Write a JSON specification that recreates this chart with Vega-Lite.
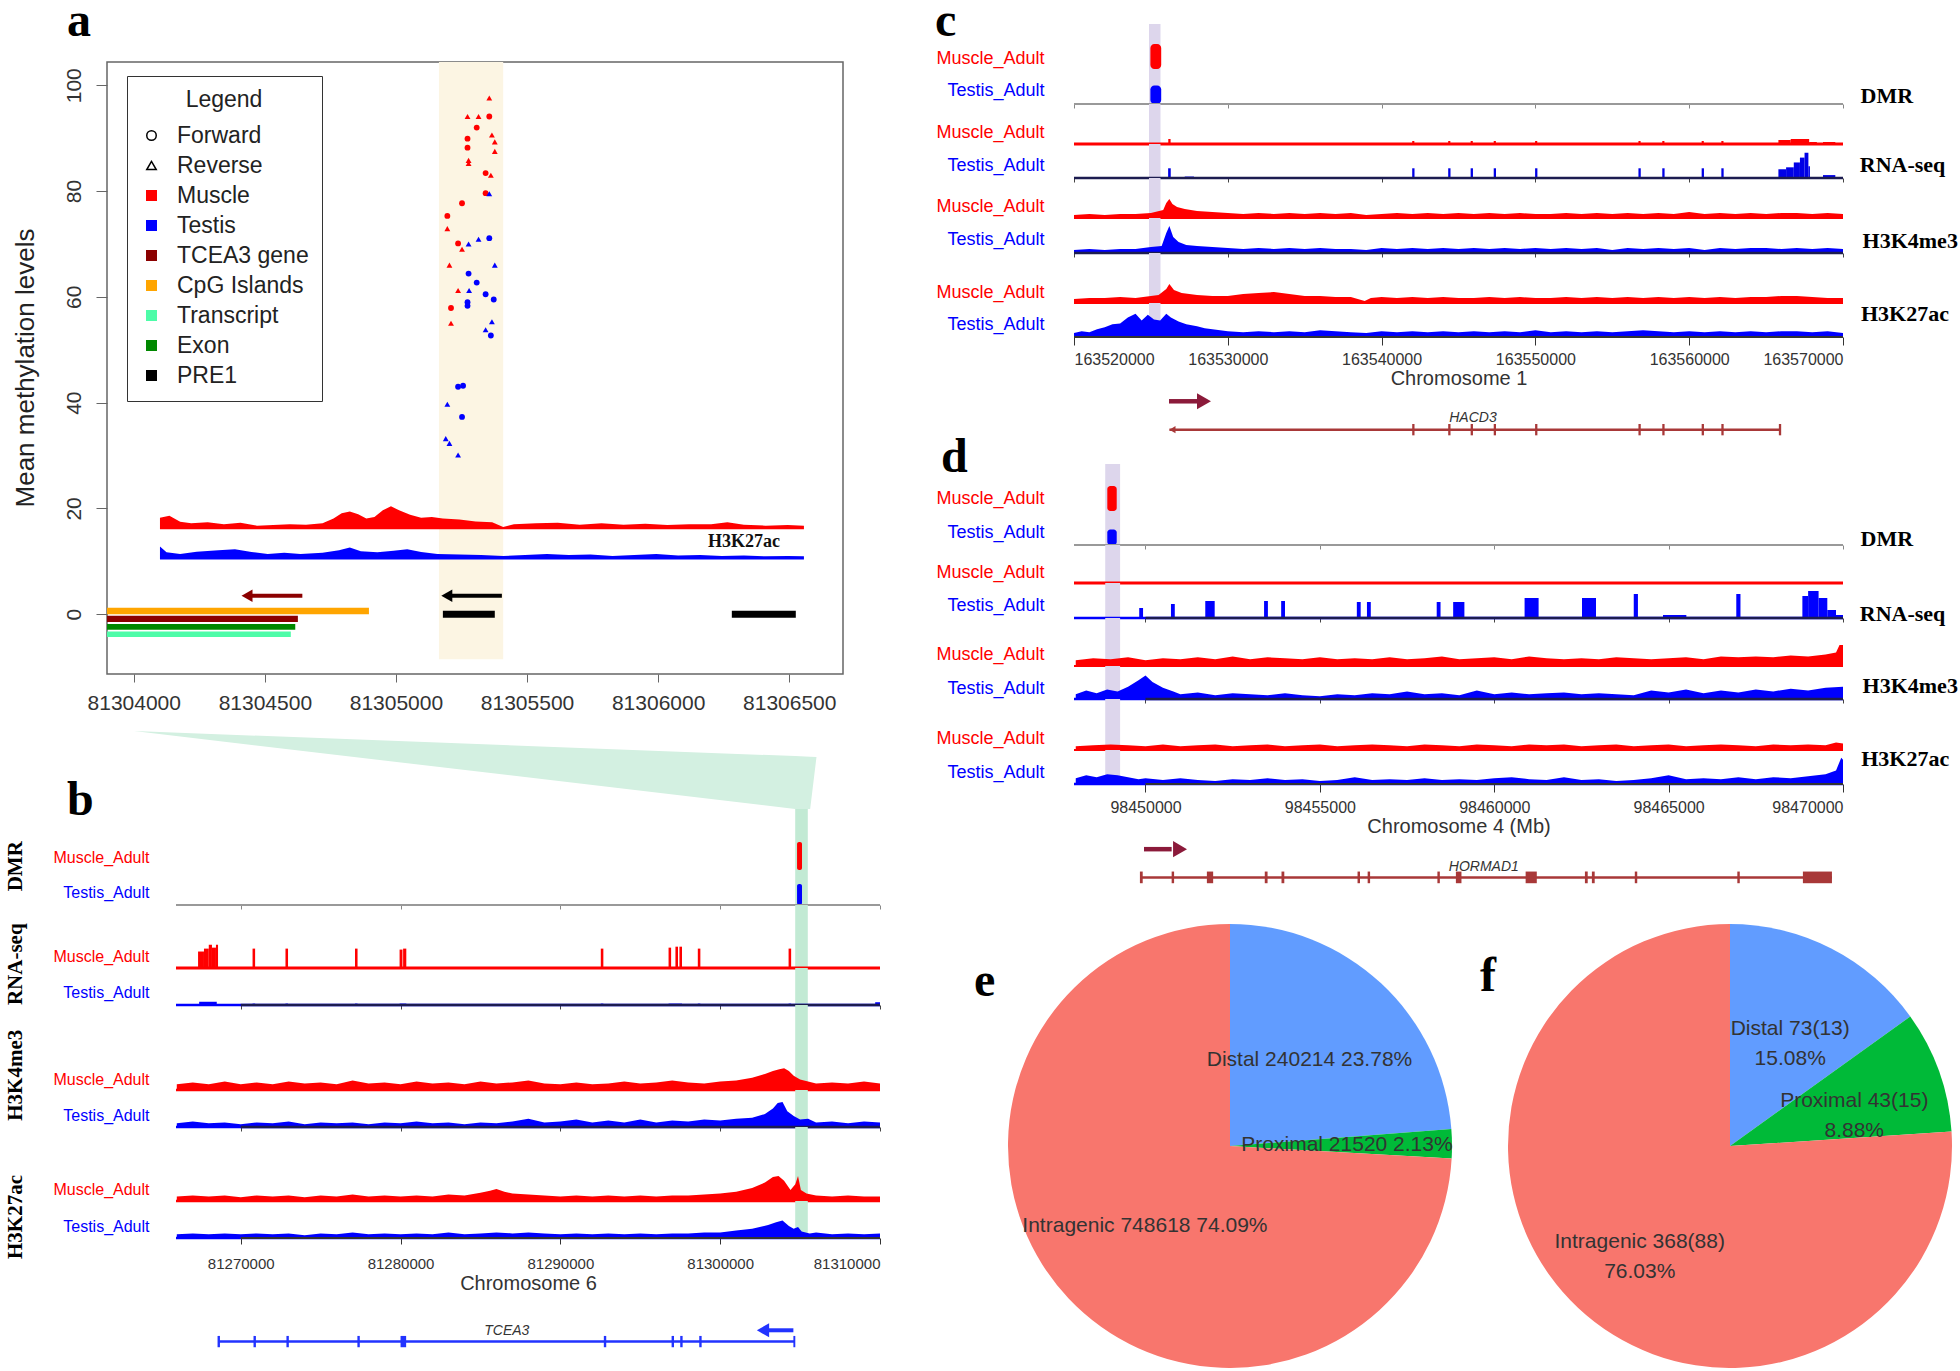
{
"$schema":"https://vega.github.io/schema/vega-lite/v6.json",
"background":"white",
"padding":{"left":4,"top":-2,"right":0,"bottom":0},
"config":{
 "view":{"stroke":null},
 "font":"Liberation Sans",
 "axis":{"grid":false,"labelFont":"Liberation Sans","titleFont":"Liberation Sans","titleFontWeight":"normal","labelColor":"#333","titleColor":"#333","tickColor":"#333","domainColor":"#333"},
 "axisY":{"domain":false,"ticks":false,"labels":false,"titleAngle":0,"titleAlign":"right","titleBaseline":"middle","titleFontSize":16},
 "axisX":{"domain":false,"labels":false,"ticks":false},
 "legend":{"padding":13,"strokeColor":"#333","fillColor":"white","titleFont":"Liberation Sans","titleFontSize":23,"titleFontWeight":"normal","titleColor":"#222","titleAnchor":"middle","titlePadding":12,"labelFont":"Liberation Sans","labelFontSize":23,"labelColor":"#222","symbolSize":90,"symbolStrokeWidth":1.5,"symbolOpacity":1,"rowPadding":6,"labelOffset":14},
 "title":{"font":"Liberation Serif","fontWeight":"bold","fontSize":48,"anchor":"start","frame":"group","color":"#000","baseline":"alphabetic"}
},
"datasets":{
 "aHi":[{"x":81305164,"x2":81305409,"lo":-8.5,"hi":104.4}],
 "aRed":[{"x":81304100,"v":18.25},{"x":81304136,"v":18.6},{"x":81304177,"v":17.5},{"x":81304219,"v":17.2},{"x":81304282,"v":17.4},{"x":81304344,"v":17.0},{"x":81304407,"v":17.3},{"x":81304470,"v":16.75},{"x":81304532,"v":16.85},{"x":81304595,"v":17.0},{"x":81304657,"v":16.9},{"x":81304720,"v":17.2},{"x":81304762,"v":18.1},{"x":81304793,"v":19.1},{"x":81304824,"v":19.4},{"x":81304856,"v":18.9},{"x":81304887,"v":18.1},{"x":81304918,"v":18.4},{"x":81304950,"v":19.65},{"x":81304981,"v":20.4},{"x":81305012,"v":19.65},{"x":81305054,"v":18.8},{"x":81305096,"v":18.25},{"x":81305137,"v":18.4},{"x":81305179,"v":18.1},{"x":81305242,"v":17.9},{"x":81305304,"v":17.55},{"x":81305367,"v":17.4},{"x":81305409,"v":16.5},{"x":81305450,"v":17.0},{"x":81305534,"v":17.2},{"x":81305617,"v":17.3},{"x":81305701,"v":16.9},{"x":81305784,"v":17.2},{"x":81305868,"v":16.9},{"x":81305951,"v":17.1},{"x":81306035,"v":16.85},{"x":81306118,"v":17.0},{"x":81306202,"v":17.0},{"x":81306264,"v":17.4},{"x":81306327,"v":16.9},{"x":81306410,"v":16.75},{"x":81306494,"v":16.85},{"x":81306556,"v":16.75}],
 "aBlue":[{"x":81304100,"v":12.8},{"x":81304125,"v":11.7},{"x":81304177,"v":11.4},{"x":81304240,"v":11.8},{"x":81304323,"v":12.1},{"x":81304386,"v":12.3},{"x":81304449,"v":11.75},{"x":81304511,"v":11.4},{"x":81304574,"v":11.6},{"x":81304636,"v":11.4},{"x":81304720,"v":11.6},{"x":81304783,"v":12.1},{"x":81304824,"v":12.6},{"x":81304866,"v":11.9},{"x":81304929,"v":11.7},{"x":81304991,"v":12.0},{"x":81305043,"v":12.3},{"x":81305096,"v":11.75},{"x":81305158,"v":11.4},{"x":81305242,"v":11.3},{"x":81305325,"v":11.2},{"x":81305409,"v":11.0},{"x":81305492,"v":11.2},{"x":81305576,"v":11.4},{"x":81305659,"v":11.2},{"x":81305742,"v":11.3},{"x":81305826,"v":11.0},{"x":81305909,"v":11.2},{"x":81305993,"v":11.4},{"x":81306076,"v":11.1},{"x":81306160,"v":11.2},{"x":81306243,"v":11.0},{"x":81306327,"v":11.1},{"x":81306410,"v":10.95},{"x":81306494,"v":11.0},{"x":81306556,"v":10.95}],
 "aPts":[
  {"x":81305196,"y":75.3,"tissue":"Muscle","strand":"Forward"},{"x":81305196,"y":72.9,"tissue":"Muscle","strand":"Reverse"},{"x":81305204,"y":66.0,"tissue":"Muscle","strand":"Reverse"},{"x":81305210,"y":57.9,"tissue":"Muscle","strand":"Forward"},{"x":81305210,"y":55.0,"tissue":"Muscle","strand":"Reverse"},{"x":81305237,"y":70.1,"tissue":"Muscle","strand":"Forward"},{"x":81305237,"y":61.2,"tissue":"Muscle","strand":"Reverse"},{"x":81305252,"y":77.7,"tissue":"Muscle","strand":"Forward"},{"x":81305252,"y":69.0,"tissue":"Muscle","strand":"Reverse"},{"x":81305273,"y":94.1,"tissue":"Muscle","strand":"Reverse"},{"x":81305273,"y":89.9,"tissue":"Muscle","strand":"Forward"},{"x":81305273,"y":88.2,"tissue":"Muscle","strand":"Forward"},{"x":81305277,"y":85.8,"tissue":"Muscle","strand":"Reverse"},{"x":81305277,"y":85.2,"tissue":"Muscle","strand":"Reverse"},{"x":81305315,"y":94.1,"tissue":"Muscle","strand":"Reverse"},{"x":81305308,"y":92.0,"tissue":"Muscle","strand":"Forward"},{"x":81305356,"y":97.6,"tissue":"Muscle","strand":"Reverse"},{"x":81305356,"y":94.1,"tissue":"Muscle","strand":"Forward"},{"x":81305342,"y":79.6,"tissue":"Muscle","strand":"Forward"},{"x":81305342,"y":83.4,"tissue":"Muscle","strand":"Forward"},{"x":81305362,"y":83.0,"tissue":"Muscle","strand":"Reverse"},{"x":81305366,"y":90.6,"tissue":"Muscle","strand":"Reverse"},{"x":81305377,"y":89.3,"tissue":"Muscle","strand":"Reverse"},{"x":81305377,"y":87.5,"tissue":"Muscle","strand":"Reverse"},
  {"x":81305196,"y":39.7,"tissue":"Testis","strand":"Reverse"},{"x":81305190,"y":33.2,"tissue":"Testis","strand":"Reverse"},{"x":81305204,"y":32.3,"tissue":"Testis","strand":"Reverse"},{"x":81305237,"y":30.1,"tissue":"Testis","strand":"Reverse"},{"x":81305237,"y":43.0,"tissue":"Testis","strand":"Forward"},{"x":81305256,"y":43.2,"tissue":"Testis","strand":"Forward"},{"x":81305252,"y":37.3,"tissue":"Testis","strand":"Forward"},{"x":81305277,"y":70.0,"tissue":"Testis","strand":"Reverse"},{"x":81305277,"y":64.4,"tissue":"Testis","strand":"Forward"},{"x":81305279,"y":61.2,"tissue":"Testis","strand":"Reverse"},{"x":81305273,"y":59.0,"tissue":"Testis","strand":"Forward"},{"x":81305273,"y":58.3,"tissue":"Testis","strand":"Forward"},{"x":81305315,"y":70.9,"tissue":"Testis","strand":"Reverse"},{"x":81305308,"y":62.7,"tissue":"Testis","strand":"Forward"},{"x":81305356,"y":71.1,"tissue":"Testis","strand":"Forward"},{"x":81305356,"y":79.5,"tissue":"Testis","strand":"Reverse"},{"x":81305342,"y":60.5,"tissue":"Testis","strand":"Forward"},{"x":81305342,"y":53.8,"tissue":"Testis","strand":"Reverse"},{"x":81305362,"y":52.7,"tissue":"Testis","strand":"Forward"},{"x":81305366,"y":55.3,"tissue":"Testis","strand":"Reverse"},{"x":81305373,"y":59.5,"tissue":"Testis","strand":"Forward"},{"x":81305377,"y":66.0,"tissue":"Testis","strand":"Reverse"}],
 "aFeat":[{"feat":"Transcript","x":81303898,"x2":81304599,"y":-3.8},{"feat":"Exon","x":81303898,"x2":81304616,"y":-2.4},{"feat":"TCEA3 gene","x":81303898,"x2":81304626,"y":-0.9},{"feat":"CpG Islands","x":81303898,"x2":81304897,"y":0.6},{"feat":"PRE1","x":81305179,"x2":81305377,"y":0},{"feat":"PRE1","x":81306281,"x2":81306525,"y":0}],
 "aArrow":[{"feat":"TCEA3 gene","x":81304440,"x2":81304643,"y":3.5},{"feat":"PRE1","x":81305200,"x2":81305404,"y":3.5}],
 "aHead":[{"feat":"TCEA3 gene","x":81304432,"y":3.5},{"feat":"PRE1","x":81305194,"y":3.5}],
 "aTxt":[{"x":81306327,"y":13.6,"t":"H3K27ac"}],
 "aLeg":[{"item":"Forward"},{"item":"Reverse"},{"item":"Muscle"},{"item":"Testis"},{"item":"TCEA3 gene"},{"item":"CpG Islands"},{"item":"Transcript"},{"item":"Exon"},{"item":"PRE1"}],
 "bBand":[{"x":81304694,"x2":81305482}],
 "bFun":[{"x":81263324,"t":1,"b":1},{"x":81304694,"t":0.678,"b":0},{"x":81305630,"t":0.671,"b":0},{"x":81306026,"t":0.667,"b":0.667}],
 "bDmrM":[{"x":81304810,"x2":81305120,"lo":3,"hi":31}],
 "bDmrT":[{"x":81304810,"x2":81305120,"lo":0,"hi":23}],
 "bRnaM":[{"x":81267330,"x2":81267700,"v":17},{"x":81267700,"x2":81268000,"v":20},{"x":81268000,"x2":81268200,"v":24},{"x":81268200,"x2":81268450,"v":21},{"x":81268450,"x2":81268580,"v":24},{"x":81270740,"x2":81270900,"v":20},{"x":81272800,"x2":81272960,"v":20},{"x":81277150,"x2":81277310,"v":20},{"x":81279940,"x2":81280120,"v":19},{"x":81280160,"x2":81280360,"v":20},{"x":81292530,"x2":81292690,"v":20},{"x":81296770,"x2":81296930,"v":21},{"x":81297200,"x2":81297360,"v":22},{"x":81297450,"x2":81297610,"v":22},{"x":81298600,"x2":81298760,"v":20},{"x":81304280,"x2":81304440,"v":20}],
 "bRnaT":[{"x":81267400,"x2":81268500,"v":3.5},{"x":81270740,"x2":81270900,"v":1.5},{"x":81272800,"x2":81272960,"v":1.5},{"x":81277150,"x2":81277310,"v":1.5},{"x":81279940,"x2":81280360,"v":1.5},{"x":81292530,"x2":81292690,"v":1.5},{"x":81296770,"x2":81297610,"v":1.5},{"x":81298600,"x2":81298760,"v":1.5},{"x":81304280,"x2":81304440,"v":1.5},{"x":81309700,"x2":81310000,"v":3}],
 "bK4M":[{"x":81266000,"v":6},{"x":81267000,"v":8},{"x":81268000,"v":6},{"x":81269000,"v":9},{"x":81270000,"v":6},{"x":81271000,"v":8},{"x":81272000,"v":6},{"x":81273000,"v":9},{"x":81274000,"v":7},{"x":81275000,"v":8},{"x":81276000,"v":6},{"x":81277000,"v":10},{"x":81278000,"v":7},{"x":81279000,"v":8},{"x":81280000,"v":6},{"x":81281000,"v":9},{"x":81282000,"v":7},{"x":81283000,"v":8},{"x":81284000,"v":6},{"x":81285000,"v":9},{"x":81286000,"v":7},{"x":81287000,"v":8},{"x":81288000,"v":10},{"x":81289000,"v":7},{"x":81290000,"v":6},{"x":81291000,"v":8},{"x":81292000,"v":6},{"x":81293000,"v":7},{"x":81294000,"v":9},{"x":81295000,"v":7},{"x":81296000,"v":8},{"x":81297000,"v":10},{"x":81298000,"v":8},{"x":81299000,"v":7},{"x":81300000,"v":9},{"x":81301000,"v":10},{"x":81302000,"v":13},{"x":81302800,"v":17},{"x":81303300,"v":20},{"x":81303700,"v":22},{"x":81304000,"v":23},{"x":81304300,"v":20},{"x":81304600,"v":15},{"x":81305000,"v":11},{"x":81305500,"v":9},{"x":81306000,"v":7},{"x":81307000,"v":8},{"x":81308000,"v":7},{"x":81309000,"v":9},{"x":81310000,"v":7}],
 "bK4T":[{"x":81266000,"v":4},{"x":81267000,"v":6},{"x":81268000,"v":4},{"x":81269000,"v":5},{"x":81270000,"v":3},{"x":81271000,"v":5},{"x":81272000,"v":4},{"x":81273000,"v":6},{"x":81274000,"v":3},{"x":81275000,"v":5},{"x":81276000,"v":4},{"x":81277000,"v":5},{"x":81278000,"v":3},{"x":81279000,"v":5},{"x":81280000,"v":4},{"x":81281000,"v":6},{"x":81282000,"v":4},{"x":81283000,"v":5},{"x":81284000,"v":3},{"x":81285000,"v":5},{"x":81286000,"v":4},{"x":81287000,"v":6},{"x":81288000,"v":9},{"x":81289000,"v":5},{"x":81290000,"v":6},{"x":81291000,"v":8},{"x":81292000,"v":5},{"x":81293000,"v":7},{"x":81294000,"v":5},{"x":81295000,"v":8},{"x":81296000,"v":5},{"x":81297000,"v":7},{"x":81298000,"v":6},{"x":81299000,"v":8},{"x":81300000,"v":7},{"x":81301000,"v":9},{"x":81302000,"v":10},{"x":81302800,"v":14},{"x":81303300,"v":20},{"x":81303600,"v":26},{"x":81303900,"v":27},{"x":81304200,"v":17},{"x":81304600,"v":12},{"x":81305000,"v":8},{"x":81305500,"v":9},{"x":81306000,"v":5},{"x":81307000,"v":6},{"x":81308000,"v":4},{"x":81309000,"v":6},{"x":81310000,"v":5}],
 "bK27M":[{"x":81266000,"v":5},{"x":81267000,"v":6},{"x":81268000,"v":5},{"x":81269000,"v":6},{"x":81270000,"v":4},{"x":81271000,"v":6},{"x":81272000,"v":5},{"x":81273000,"v":6},{"x":81274000,"v":4},{"x":81275000,"v":6},{"x":81276000,"v":5},{"x":81277000,"v":7},{"x":81278000,"v":5},{"x":81279000,"v":6},{"x":81280000,"v":5},{"x":81281000,"v":6},{"x":81282000,"v":5},{"x":81283000,"v":7},{"x":81284000,"v":6},{"x":81285000,"v":9},{"x":81285600,"v":11},{"x":81286000,"v":13},{"x":81286500,"v":10},{"x":81287000,"v":8},{"x":81288000,"v":7},{"x":81289000,"v":6},{"x":81290000,"v":5},{"x":81291000,"v":6},{"x":81292000,"v":5},{"x":81293000,"v":6},{"x":81294000,"v":5},{"x":81295000,"v":6},{"x":81296000,"v":5},{"x":81297000,"v":6},{"x":81298000,"v":6},{"x":81299000,"v":7},{"x":81300000,"v":8},{"x":81301000,"v":10},{"x":81302000,"v":14},{"x":81302800,"v":20},{"x":81303300,"v":26},{"x":81303650,"v":27},{"x":81304000,"v":22},{"x":81304400,"v":12},{"x":81304700,"v":18},{"x":81304870,"v":27},{"x":81305050,"v":12},{"x":81305400,"v":8},{"x":81306000,"v":6},{"x":81307000,"v":5},{"x":81308000,"v":6},{"x":81309000,"v":5},{"x":81310000,"v":5}],
 "bK27T":[{"x":81266000,"v":4},{"x":81267000,"v":5},{"x":81268000,"v":4},{"x":81269000,"v":5},{"x":81270000,"v":4},{"x":81271000,"v":5},{"x":81272000,"v":4},{"x":81273000,"v":5},{"x":81274000,"v":3},{"x":81275000,"v":5},{"x":81276000,"v":4},{"x":81277000,"v":6},{"x":81278000,"v":4},{"x":81279000,"v":5},{"x":81280000,"v":4},{"x":81281000,"v":5},{"x":81282000,"v":4},{"x":81283000,"v":6},{"x":81284000,"v":4},{"x":81285000,"v":5},{"x":81286000,"v":6},{"x":81287000,"v":5},{"x":81288000,"v":6},{"x":81289000,"v":5},{"x":81290000,"v":4},{"x":81291000,"v":5},{"x":81292000,"v":4},{"x":81293000,"v":5},{"x":81294000,"v":4},{"x":81295000,"v":5},{"x":81296000,"v":4},{"x":81297000,"v":5},{"x":81298000,"v":5},{"x":81299000,"v":6},{"x":81300000,"v":6},{"x":81301000,"v":8},{"x":81302000,"v":10},{"x":81303000,"v":14},{"x":81303500,"v":17},{"x":81303900,"v":19},{"x":81304300,"v":13},{"x":81304600,"v":10},{"x":81304870,"v":12},{"x":81305100,"v":7},{"x":81305600,"v":5},{"x":81306000,"v":6},{"x":81307000,"v":4},{"x":81308000,"v":5},{"x":81309000,"v":4},{"x":81310000,"v":5}],
 "bGeneL":[{"x":81268600,"x2":81304650}],
 "bExon":[{"x":81268550,"x2":81268700},{"x":81270800,"x2":81270950},{"x":81272860,"x2":81273010},{"x":81277300,"x2":81277450},{"x":81280000,"x2":81280350},{"x":81292720,"x2":81292870},{"x":81296960,"x2":81297110},{"x":81297500,"x2":81297650},{"x":81298690,"x2":81298840},{"x":81304580,"x2":81304700}],
 "bArrow":[{"x":81302900,"x2":81304580}],
 "bHead":[{"x":81302680}],
 "bLbl":[{"x":81286650,"t":"TCEA3"}],
 "cBand":[{"x":163524877,"x2":163525624}],
 "cDmrM":[{"x":163524967,"x2":163525670,"lo":4,"hi":29}],
 "cDmrT":[{"x":163524967,"x2":163525670,"lo":0,"hi":21}],
 "cRnaM":[{"x":163526130,"x2":163526280,"v":5},{"x":163541990,"x2":163542130,"v":3},{"x":163544330,"x2":163544470,"v":3},{"x":163545790,"x2":163545930,"v":3},{"x":163547290,"x2":163547430,"v":3},{"x":163549980,"x2":163550120,"v":3},{"x":163556700,"x2":163556840,"v":3},{"x":163558250,"x2":163558390,"v":3},{"x":163560810,"x2":163560950,"v":3},{"x":163562090,"x2":163562230,"v":3},{"x":163565800,"x2":163566600,"v":4},{"x":163566600,"x2":163567800,"v":5},{"x":163567800,"x2":163568300,"v":2},{"x":163568700,"x2":163569500,"v":2}],
 "cRnaT":[{"x":163526120,"x2":163526290,"v":10},{"x":163527200,"x2":163527800,"v":1.5},{"x":163541990,"x2":163542140,"v":10},{"x":163544330,"x2":163544480,"v":10},{"x":163545790,"x2":163545940,"v":10},{"x":163547290,"x2":163547440,"v":10},{"x":163549980,"x2":163550130,"v":10},{"x":163556700,"x2":163556850,"v":10},{"x":163558250,"x2":163558400,"v":10},{"x":163560810,"x2":163560960,"v":10},{"x":163562090,"x2":163562240,"v":10},{"x":163565800,"x2":163566300,"v":9},{"x":163566300,"x2":163566800,"v":11},{"x":163566800,"x2":163567200,"v":16},{"x":163567200,"x2":163567500,"v":21},{"x":163567500,"x2":163567750,"v":26},{"x":163567750,"x2":163567850,"v":12},{"x":163568700,"x2":163569500,"v":3}],
 "cK4M":[{"x":163520000,"v":3},{"x":163521000,"v":4},{"x":163522000,"v":3},{"x":163523000,"v":4},{"x":163524000,"v":4},{"x":163525000,"v":5},{"x":163525800,"v":8},{"x":163526000,"v":15},{"x":163526200,"v":19},{"x":163526400,"v":14},{"x":163526700,"v":11},{"x":163527200,"v":9},{"x":163528000,"v":7},{"x":163529000,"v":6},{"x":163530000,"v":5},{"x":163531000,"v":4},{"x":163532000,"v":5},{"x":163533000,"v":4},{"x":163534000,"v":5},{"x":163535000,"v":4},{"x":163536000,"v":5},{"x":163537000,"v":4},{"x":163538000,"v":5},{"x":163539000,"v":3},{"x":163540000,"v":4},{"x":163541000,"v":5},{"x":163542000,"v":4},{"x":163543000,"v":5},{"x":163544000,"v":4},{"x":163545000,"v":5},{"x":163546000,"v":4},{"x":163547000,"v":5},{"x":163548000,"v":4},{"x":163549000,"v":5},{"x":163550000,"v":4},{"x":163551000,"v":4},{"x":163552000,"v":5},{"x":163553000,"v":4},{"x":163554000,"v":5},{"x":163555000,"v":4},{"x":163556000,"v":5},{"x":163557000,"v":4},{"x":163558000,"v":5},{"x":163559000,"v":4},{"x":163560000,"v":6},{"x":163561000,"v":4},{"x":163562000,"v":5},{"x":163563000,"v":4},{"x":163564000,"v":5},{"x":163565000,"v":4},{"x":163566000,"v":5},{"x":163567000,"v":5},{"x":163568000,"v":4},{"x":163569000,"v":5},{"x":163570000,"v":4}],
 "cK4T":[{"x":163520000,"v":3},{"x":163521000,"v":4},{"x":163522000,"v":3},{"x":163523000,"v":4},{"x":163524000,"v":4},{"x":163525000,"v":6},{"x":163525700,"v":7},{"x":163526000,"v":20},{"x":163526200,"v":27},{"x":163526450,"v":16},{"x":163526800,"v":11},{"x":163527300,"v":8},{"x":163528000,"v":7},{"x":163529000,"v":6},{"x":163530000,"v":5},{"x":163531000,"v":4},{"x":163532000,"v":5},{"x":163533000,"v":4},{"x":163534000,"v":5},{"x":163535000,"v":4},{"x":163536000,"v":5},{"x":163537000,"v":4},{"x":163538000,"v":4},{"x":163539000,"v":3},{"x":163540000,"v":5},{"x":163541000,"v":4},{"x":163542000,"v":5},{"x":163543000,"v":4},{"x":163544000,"v":5},{"x":163545000,"v":4},{"x":163546000,"v":5},{"x":163547000,"v":4},{"x":163548000,"v":5},{"x":163549000,"v":4},{"x":163550000,"v":5},{"x":163551000,"v":4},{"x":163552000,"v":5},{"x":163553000,"v":4},{"x":163554000,"v":5},{"x":163555000,"v":3},{"x":163556000,"v":5},{"x":163557000,"v":4},{"x":163558000,"v":5},{"x":163559000,"v":4},{"x":163560000,"v":5},{"x":163561000,"v":3},{"x":163562000,"v":5},{"x":163563000,"v":4},{"x":163564000,"v":5},{"x":163565000,"v":5},{"x":163566000,"v":4},{"x":163567000,"v":5},{"x":163568000,"v":4},{"x":163569000,"v":5},{"x":163570000,"v":4}],
 "cK27M":[{"x":163520000,"v":4},{"x":163521000,"v":5},{"x":163522000,"v":5},{"x":163523000,"v":6},{"x":163524000,"v":5},{"x":163525000,"v":7},{"x":163525500,"v":8},{"x":163526000,"v":14},{"x":163526200,"v":19},{"x":163526500,"v":13},{"x":163527000,"v":10},{"x":163528000,"v":8},{"x":163529000,"v":7},{"x":163530000,"v":7},{"x":163531000,"v":9},{"x":163532000,"v":10},{"x":163533000,"v":11},{"x":163534000,"v":9},{"x":163535000,"v":7},{"x":163536000,"v":7},{"x":163537000,"v":6},{"x":163538000,"v":6},{"x":163538900,"v":2},{"x":163539300,"v":5},{"x":163540000,"v":6},{"x":163541000,"v":5},{"x":163542000,"v":6},{"x":163543000,"v":5},{"x":163544000,"v":6},{"x":163545000,"v":5},{"x":163546000,"v":5},{"x":163547000,"v":6},{"x":163548000,"v":5},{"x":163549000,"v":6},{"x":163550000,"v":5},{"x":163551000,"v":5},{"x":163552000,"v":6},{"x":163553000,"v":5},{"x":163554000,"v":6},{"x":163555000,"v":5},{"x":163556000,"v":6},{"x":163557000,"v":5},{"x":163558000,"v":6},{"x":163559000,"v":5},{"x":163560000,"v":6},{"x":163561000,"v":5},{"x":163562000,"v":6},{"x":163563000,"v":5},{"x":163564000,"v":6},{"x":163565000,"v":6},{"x":163566000,"v":7},{"x":163567000,"v":7},{"x":163568000,"v":6},{"x":163569000,"v":5},{"x":163570000,"v":5}],
 "cK27T":[{"x":163520000,"v":4},{"x":163520500,"v":6},{"x":163521000,"v":5},{"x":163521500,"v":8},{"x":163522000,"v":10},{"x":163522500,"v":13},{"x":163523000,"v":14},{"x":163523500,"v":20},{"x":163524000,"v":24},{"x":163524400,"v":17},{"x":163524800,"v":23},{"x":163525200,"v":18},{"x":163525600,"v":17},{"x":163526000,"v":24},{"x":163526300,"v":20},{"x":163526800,"v":16},{"x":163527300,"v":13},{"x":163528000,"v":11},{"x":163528500,"v":9},{"x":163529000,"v":8},{"x":163529500,"v":7},{"x":163530000,"v":6},{"x":163531000,"v":5},{"x":163532000,"v":6},{"x":163533000,"v":5},{"x":163534000,"v":6},{"x":163535000,"v":5},{"x":163536000,"v":7},{"x":163537000,"v":6},{"x":163538000,"v":5},{"x":163539000,"v":4},{"x":163540000,"v":6},{"x":163541000,"v":5},{"x":163542000,"v":6},{"x":163543000,"v":5},{"x":163544000,"v":6},{"x":163545000,"v":5},{"x":163546000,"v":6},{"x":163547000,"v":5},{"x":163548000,"v":6},{"x":163549000,"v":5},{"x":163550000,"v":7},{"x":163551000,"v":5},{"x":163552000,"v":6},{"x":163553000,"v":5},{"x":163554000,"v":6},{"x":163555000,"v":5},{"x":163556000,"v":6},{"x":163557000,"v":7},{"x":163558000,"v":6},{"x":163559000,"v":5},{"x":163560000,"v":6},{"x":163561000,"v":5},{"x":163562000,"v":6},{"x":163563000,"v":5},{"x":163564000,"v":6},{"x":163565000,"v":5},{"x":163566000,"v":6},{"x":163567000,"v":6},{"x":163568000,"v":5},{"x":163569000,"v":6},{"x":163570000,"v":4}],
 "cGeneL":[{"x":163526203,"x2":163565900}],
 "cExon":[{"x":163541990,"x2":163542140},{"x":163544330,"x2":163544480},{"x":163545790,"x2":163545940},{"x":163547290,"x2":163547440},{"x":163549980,"x2":163550130},{"x":163556700,"x2":163556850},{"x":163558250,"x2":163558400},{"x":163560810,"x2":163560960},{"x":163562090,"x2":163562240},{"x":163565830,"x2":163565980}],
 "cArrow":[{"x":163526177,"x2":163528000}],
 "cHead":[{"x":163528452}],
 "cStart":[{"x":163526400}],
 "cLbl":[{"x":163545940,"t":"HACD3"}],
 "dBand":[{"x":98448845,"x2":98449272}],
 "dDmrM":[{"x":98448905,"x2":98449175,"lo":2,"hi":27}],
 "dDmrT":[{"x":98448905,"x2":98449175,"lo":0,"hi":17}],
 "dRnaM":[{"x":98447950,"x2":98470000}],
 "dRnaT":[{"x":98449820,"x2":98449930,"v":10},{"x":98450730,"x2":98450840,"v":14},{"x":98451714,"x2":98451984,"v":17},{"x":98453400,"x2":98453510,"v":17},{"x":98453890,"x2":98454000,"v":17},{"x":98456060,"x2":98456170,"v":16},{"x":98456350,"x2":98456460,"v":16},{"x":98458350,"x2":98458460,"v":16},{"x":98458822,"x2":98459144,"v":16},{"x":98460870,"x2":98461272,"v":20},{"x":98462516,"x2":98462918,"v":20},{"x":98464000,"x2":98464120,"v":24},{"x":98464838,"x2":98465508,"v":3},{"x":98466940,"x2":98467060,"v":24},{"x":98468835,"x2":98469000,"v":22},{"x":98469000,"x2":98469300,"v":27},{"x":98469300,"x2":98469550,"v":20},{"x":98469550,"x2":98469800,"v":8},{"x":98469800,"x2":98470000,"v":3}],
 "dK4M":[{"x":98448000,"v":6},{"x":98448500,"v":8},{"x":98449000,"v":7},{"x":98449500,"v":9},{"x":98450000,"v":6},{"x":98450500,"v":8},{"x":98451000,"v":7},{"x":98451500,"v":9},{"x":98452000,"v":7},{"x":98452500,"v":10},{"x":98453000,"v":7},{"x":98453500,"v":9},{"x":98454000,"v":8},{"x":98454500,"v":7},{"x":98455000,"v":9},{"x":98455500,"v":7},{"x":98456000,"v":8},{"x":98456500,"v":7},{"x":98457000,"v":9},{"x":98457500,"v":7},{"x":98458000,"v":8},{"x":98458500,"v":10},{"x":98459000,"v":7},{"x":98459500,"v":8},{"x":98460000,"v":9},{"x":98460500,"v":7},{"x":98461000,"v":10},{"x":98461500,"v":8},{"x":98462000,"v":7},{"x":98462500,"v":8},{"x":98463000,"v":7},{"x":98463500,"v":9},{"x":98464000,"v":8},{"x":98464500,"v":7},{"x":98465000,"v":8},{"x":98465500,"v":9},{"x":98466000,"v":7},{"x":98466500,"v":10},{"x":98467000,"v":9},{"x":98467500,"v":10},{"x":98468000,"v":9},{"x":98468500,"v":11},{"x":98469000,"v":10},{"x":98469500,"v":12},{"x":98469800,"v":14},{"x":98469900,"v":22},{"x":98470000,"v":22}],
 "dK4T":[{"x":98448000,"v":5},{"x":98448300,"v":9},{"x":98448600,"v":6},{"x":98448900,"v":10},{"x":98449200,"v":8},{"x":98449500,"v":13},{"x":98449800,"v":20},{"x":98450000,"v":25},{"x":98450200,"v":18},{"x":98450500,"v":12},{"x":98450800,"v":8},{"x":98451000,"v":5},{"x":98451500,"v":7},{"x":98452000,"v":4},{"x":98452500,"v":6},{"x":98453000,"v":5},{"x":98453500,"v":4},{"x":98454000,"v":6},{"x":98454500,"v":4},{"x":98455000,"v":3},{"x":98455500,"v":5},{"x":98456000,"v":4},{"x":98456500,"v":6},{"x":98457000,"v":5},{"x":98457500,"v":8},{"x":98458000,"v":5},{"x":98458500,"v":6},{"x":98459000,"v":4},{"x":98459500,"v":9},{"x":98460000,"v":5},{"x":98460500,"v":7},{"x":98461000,"v":5},{"x":98461500,"v":6},{"x":98462000,"v":7},{"x":98462500,"v":5},{"x":98463000,"v":6},{"x":98463500,"v":5},{"x":98464000,"v":4},{"x":98464500,"v":9},{"x":98465000,"v":7},{"x":98465500,"v":10},{"x":98466000,"v":6},{"x":98466500,"v":9},{"x":98467000,"v":7},{"x":98467500,"v":10},{"x":98468000,"v":8},{"x":98468500,"v":11},{"x":98469000,"v":9},{"x":98469500,"v":12},{"x":98470000,"v":13}],
 "dK27M":[{"x":98448000,"v":4},{"x":98448500,"v":5},{"x":98449000,"v":6},{"x":98449500,"v":5},{"x":98450000,"v":4},{"x":98450500,"v":6},{"x":98451000,"v":4},{"x":98451500,"v":5},{"x":98452000,"v":6},{"x":98452500,"v":4},{"x":98453000,"v":5},{"x":98453500,"v":6},{"x":98454000,"v":4},{"x":98454500,"v":5},{"x":98455000,"v":6},{"x":98455500,"v":4},{"x":98456000,"v":5},{"x":98456500,"v":6},{"x":98457000,"v":5},{"x":98457500,"v":4},{"x":98458000,"v":6},{"x":98458500,"v":5},{"x":98459000,"v":4},{"x":98459500,"v":6},{"x":98460000,"v":5},{"x":98460500,"v":4},{"x":98461000,"v":6},{"x":98461500,"v":5},{"x":98462000,"v":6},{"x":98462500,"v":4},{"x":98463000,"v":5},{"x":98463500,"v":6},{"x":98464000,"v":4},{"x":98464500,"v":5},{"x":98465000,"v":6},{"x":98465500,"v":4},{"x":98466000,"v":5},{"x":98466500,"v":6},{"x":98467000,"v":5},{"x":98467500,"v":4},{"x":98468000,"v":6},{"x":98468500,"v":5},{"x":98469000,"v":6},{"x":98469500,"v":5},{"x":98469800,"v":8},{"x":98470000,"v":7}],
 "dK27T":[{"x":98448000,"v":6},{"x":98448300,"v":9},{"x":98448600,"v":7},{"x":98448900,"v":10},{"x":98449200,"v":9},{"x":98449500,"v":7},{"x":98449800,"v":5},{"x":98450000,"v":6},{"x":98450500,"v":4},{"x":98451000,"v":6},{"x":98451500,"v":4},{"x":98452000,"v":3},{"x":98452500,"v":5},{"x":98453000,"v":4},{"x":98453500,"v":6},{"x":98454000,"v":4},{"x":98454500,"v":5},{"x":98455000,"v":3},{"x":98455500,"v":4},{"x":98456000,"v":7},{"x":98456500,"v":4},{"x":98457000,"v":5},{"x":98457500,"v":4},{"x":98458000,"v":6},{"x":98458500,"v":4},{"x":98459000,"v":5},{"x":98459500,"v":4},{"x":98460000,"v":6},{"x":98460500,"v":7},{"x":98461000,"v":5},{"x":98461500,"v":4},{"x":98462000,"v":7},{"x":98462500,"v":4},{"x":98463000,"v":5},{"x":98463500,"v":3},{"x":98464000,"v":4},{"x":98464500,"v":6},{"x":98465000,"v":9},{"x":98465500,"v":5},{"x":98466000,"v":6},{"x":98466500,"v":5},{"x":98467000,"v":7},{"x":98467500,"v":5},{"x":98468000,"v":7},{"x":98468500,"v":6},{"x":98469000,"v":8},{"x":98469500,"v":10},{"x":98469800,"v":14},{"x":98469950,"v":27},{"x":98470000,"v":25}],
 "dGeneL":[{"x":98449872,"x2":98469683}],
 "dExon":[{"x":98449840,"x2":98449920},{"x":98450750,"x2":98450820},{"x":98451760,"x2":98451940},{"x":98453420,"x2":98453500},{"x":98453900,"x2":98453980},{"x":98456080,"x2":98456150},{"x":98456370,"x2":98456440},{"x":98458370,"x2":98458440},{"x":98458900,"x2":98459060},{"x":98460900,"x2":98461220},{"x":98462600,"x2":98462680},{"x":98462800,"x2":98462880},{"x":98464030,"x2":98464100},{"x":98466970,"x2":98467040},{"x":98468850,"x2":98469683}],
 "dArrow":[{"x":98449957,"x2":98450750}],
 "dHead":[{"x":98450990}],
 "dLbl":[{"x":98459700,"t":"HORMAD1"}],
 "pE":[{"cat":"Distal","n":240214,"o":1,"label":"Distal 240214 23.78%"},{"cat":"Proximal","n":21520,"o":2,"label":"Proximal 21520 2.13%"},{"cat":"Intragenic","n":748618,"o":3,"label":"Intragenic 748618 74.09%"}],
 "pF":[{"cat":"Distal","n":73,"o":1,"label":["Distal 73(13)","15.08%"]},{"cat":"Proximal","n":43,"o":2,"label":["Proximal 43(15)","8.88%"]},{"cat":"Intragenic","n":368,"o":3,"label":["Intragenic 368(88)","76.03%"]}]
},
"bounds":"flush",
"spacing":967,
"hconcat":[
{"bounds":"flush","spacing":0,"vconcat":[
 {"width":10,"height":38,"title":{"text":"a","dx":-40,"offset":-22},"data":{"values":[{}]},"mark":{"type":"point","opacity":0}},
 {"width":736,"height":612,
  "view":{"stroke":"#666","strokeWidth":1.5},
  "title":{"text":"Mean methylation levels","orient":"left","anchor":"middle","font":"Liberation Sans","fontWeight":"normal","fontSize":26,"color":"#222","offset":-2,"baseline":"bottom"},
  "layer":[
   {"data":{"name":"aHi"},"mark":{"type":"rect","color":"#fcf5e3"},
    "encoding":{
     "x":{"field":"x","type":"quantitative","scale":{"domain":[81303898,81306705],"nice":false,"zero":false},
          "axis":{"values":[81304000,81304500,81305000,81305500,81306000,81306500],"format":"d","labels":true,"ticks":true,"tickSize":8,"tickColor":"#666","labelFontSize":21,"labelPadding":10,"labelColor":"#333","title":null}},
     "x2":{"field":"x2"},
     "y":{"field":"lo","type":"quantitative","scale":{"domain":[-11.3,104.4],"nice":false,"zero":false},
          "axis":{"values":[0,20,40,60,80,100],"labels":true,"ticks":true,"tickSize":11,"tickColor":"#666","labelAngle":-90,"labelAlign":"center","labelBaseline":"alphabetic","labelPadding":16,"labelFontSize":21,"labelColor":"#333","title":null}},
     "y2":{"field":"hi"}}},
   {"data":{"name":"aRed"},"mark":{"type":"area","color":"#ff0000"},"encoding":{"x":{"field":"x","type":"quantitative"},"y":{"field":"v","type":"quantitative"},"y2":{"datum":16.05}}},
   {"data":{"name":"aBlue"},"mark":{"type":"area","color":"#0000ff"},"encoding":{"x":{"field":"x","type":"quantitative"},"y":{"field":"v","type":"quantitative"},"y2":{"datum":10.35}}},
   {"data":{"name":"aFeat"},"mark":{"type":"rule","clip":true},"encoding":{"x":{"field":"x","type":"quantitative"},"x2":{"field":"x2"},"y":{"field":"y","type":"quantitative"},
     "stroke":{"field":"feat","type":"nominal","title":"Legend","scale":{"domain":["Forward","Reverse","Muscle","Testis","TCEA3 gene","CpG Islands","Transcript","Exon","PRE1"],"range":["#000000","#000000","#ff0000","#0000ff","#8b0000","#ffa500","#4dfca8","#008800","#000000"]}},
     "strokeWidth":{"field":"feat","type":"ordinal","legend":null,"scale":{"domain":["Transcript","Exon","TCEA3 gene","CpG Islands","PRE1"],"range":[5.5,7,4.5,6,5]}}}},
   {"data":{"name":"aArrow"},"mark":{"type":"rule","strokeWidth":4},"encoding":{"x":{"field":"x","type":"quantitative"},"x2":{"field":"x2"},"y":{"field":"y","type":"quantitative"},
     "stroke":{"field":"feat","type":"nominal","title":"Legend","scale":{"domain":["Forward","Reverse","Muscle","Testis","TCEA3 gene","CpG Islands","Transcript","Exon","PRE1"],"range":["#000000","#000000","#ff0000","#0000ff","#8b0000","#ffa500","#4dfca8","#008800","#000000"]}}}},
   {"data":{"name":"aHead"},"mark":{"type":"point","shape":"triangle-left","size":160,"filled":true,"opacity":1},"encoding":{"x":{"field":"x","type":"quantitative"},"y":{"field":"y","type":"quantitative"},
     "fill":{"field":"feat","type":"nominal","title":"Legend","scale":{"domain":["Forward","Reverse","Muscle","Testis","TCEA3 gene","CpG Islands","Transcript","Exon","PRE1"],"range":["transparent","transparent","#ff0000","#0000ff","#8b0000","#ffa500","#4dfca8","#008800","#000000"]}}}},
   {"data":{"name":"aPts"},"mark":{"type":"point","filled":true,"size":34,"opacity":1},"encoding":{"x":{"field":"x","type":"quantitative"},"y":{"field":"y","type":"quantitative"},
     "fill":{"field":"tissue","type":"nominal","title":"Legend","scale":{"domain":["Forward","Reverse","Muscle","Testis","TCEA3 gene","CpG Islands","Transcript","Exon","PRE1"],"range":["transparent","transparent","#ff0000","#0000ff","#8b0000","#ffa500","#4dfca8","#008800","#000000"]}},
     "shape":{"field":"strand","type":"nominal","title":"Legend","scale":{"domain":["Forward","Reverse","Muscle","Testis","TCEA3 gene","CpG Islands","Transcript","Exon","PRE1"],"range":["circle","triangle-up","square","square","square","square","square","square","square"]}}}},
   {"data":{"name":"aTxt"},"mark":{"type":"text","font":"Liberation Serif","fontWeight":"bold","fontSize":18,"color":"#111"},"encoding":{"x":{"field":"x","type":"quantitative"},"y":{"field":"y","type":"quantitative"},"text":{"field":"t"}}},
   {"data":{"name":"aLeg"},"transform":[{"filter":"false"}],"mark":{"type":"point"},"encoding":{
     "fill":{"field":"item","type":"nominal","title":"Legend","legend":{"orient":"none","legendX":20,"legendY":52},"scale":{"domain":["Forward","Reverse","Muscle","Testis","TCEA3 gene","CpG Islands","Transcript","Exon","PRE1"],"range":["transparent","transparent","#ff0000","#0000ff","#8b0000","#ffa500","#4dfca8","#008800","#000000"]}},
     "stroke":{"field":"item","type":"nominal","title":"Legend","legend":{"orient":"none","legendX":20,"legendY":52},"scale":{"domain":["Forward","Reverse","Muscle","Testis","TCEA3 gene","CpG Islands","Transcript","Exon","PRE1"],"range":["#000000","#000000","#ff0000","#0000ff","#8b0000","#ffa500","#4dfca8","#008800","#000000"]}},
     "shape":{"field":"item","type":"nominal","title":"Legend","legend":{"orient":"none","legendX":20,"legendY":52},"scale":{"domain":["Forward","Reverse","Muscle","Testis","TCEA3 gene","CpG Islands","Transcript","Exon","PRE1"],"range":["circle","triangle-up","square","square","square","square","square","square","square"]}}}}
  ]},
 {"width":10,"height":57,"data":{"values":[{}]},"mark":{"type":"point","opacity":0}},
 {"bounds":"flush","spacing":0,"hconcat":[
  {"width":69,"height":10,"data":{"values":[{}]},"mark":{"type":"point","opacity":0}},
  {"bounds":"flush","spacing":0,"vconcat":[
   {"width":704,"height":78,"title":{"text":"b","dx":-109,"offset":-94},"layer":[
    {"data":{"name":"bFun"},"mark":{"type":"area","color":"#d3f0e1"},"encoding":{"x":{"field":"x","type":"quantitative","scale":{"domain":[81265950,81310000],"nice":false,"zero":false},"axis":null},"y":{"field":"t","type":"quantitative","scale":{"domain":[0,1]},"axis":null},"y2":{"field":"b"}}}]},
   {"bounds":"flush","spacing":0,"title":{"text":"DMR","orient":"left","anchor":"middle","frame":"bounds","fontSize":21,"offset":6,"baseline":"bottom","dx":-7},"vconcat":[
    {"width":704,"height":64,"layer":[
     {"data":{"name":"bBand"},"mark":{"type":"rect","color":"#c2ead4"},"encoding":{"x":{"field":"x","type":"quantitative","scale":{"domain":[81265950,81310000],"nice":false,"zero":false},"axis":null},"x2":{"field":"x2"}}},
     {"data":{"name":"bDmrM"},"mark":{"type":"rect","color":"#ff0000","cornerRadius":2},"encoding":{"x":{"field":"x","type":"quantitative","axis":null},"x2":{"field":"x2"},"y":{"field":"lo","type":"quantitative","scale":{"domain":[0,64]},"axis":{"title":"Muscle_Adult","titleColor":"#ff0000","titleX":-27,"titleY":48}},"y2":{"field":"hi"}}}]},
    {"width":704,"height":32,"layer":[
     {"data":{"name":"bBand"},"mark":{"type":"rect","color":"#c2ead4"},"encoding":{"x":{"field":"x","type":"quantitative","scale":{"domain":[81265950,81310000],"nice":false,"zero":false}},"x2":{"field":"x2"}}},
     {"data":{"name":"bDmrT"},"mark":{"type":"rect","color":"#0000ff","cornerRadius":2},"encoding":{"x":{"field":"x","type":"quantitative","axis":{"values":[81270000,81280000,81290000,81300000,81310000],"ticks":true,"tickSize":4,"tickColor":"#888","labels":false,"domain":false,"title":null}},"x2":{"field":"x2"},"y":{"field":"lo","type":"quantitative","scale":{"domain":[0,32]},"axis":{"title":"Testis_Adult","titleColor":"#0000ff","titleX":-27,"titleY":19}},"y2":{"field":"hi"}}},
     {"data":{"name":"bBand"},"mark":{"type":"rule","color":"#999999","strokeWidth":2},"encoding":{"x":{"datum":81265950,"type":"quantitative"},"x2":{"datum":81310000},"y":{"datum":0,"type":"quantitative"}}}]}
   ]},
   {"width":10,"height":96,"data":{"values":[{}]},"mark":{"type":"point","opacity":0}},
   {"bounds":"flush","spacing":0,"title":{"text":"RNA-seq","orient":"left","anchor":"middle","frame":"bounds","fontSize":21,"offset":6,"baseline":"bottom","dx":-7},"vconcat":[
    {"width":704,"height":63,"layer":[
     {"data":{"name":"bBand"},"mark":{"type":"rect","color":"#c2ead4"},"encoding":{"x":{"field":"x","type":"quantitative","scale":{"domain":[81265950,81310000],"nice":false,"zero":false},"axis":null},"x2":{"field":"x2"}}},
     {"data":{"name":"bRnaM"},"mark":{"type":"rect","color":"#ff0000"},"encoding":{"x":{"field":"x","type":"quantitative","axis":null},"x2":{"field":"x2"},"y":{"field":"v","type":"quantitative","scale":{"domain":[0,63]},"axis":{"title":"Muscle_Adult","titleColor":"#ff0000","titleX":-27,"titleY":51}},"y2":{"datum":0}}},
     {"data":{"name":"bBand"},"mark":{"type":"rule","color":"#ff0000","strokeWidth":3},"encoding":{"x":{"datum":81265950,"type":"quantitative","axis":null},"x2":{"datum":81310000},"y":{"datum":0,"type":"quantitative"}}}]},
    {"width":704,"height":37,"layer":[
     {"data":{"name":"bBand"},"mark":{"type":"rect","color":"#c2ead4"},"encoding":{"x":{"field":"x","type":"quantitative","scale":{"domain":[81265950,81310000],"nice":false,"zero":false}},"x2":{"field":"x2"}}},
     {"data":{"name":"bRnaT"},"mark":{"type":"rect","color":"#0000ff"},"encoding":{"x":{"field":"x","type":"quantitative","axis":{"values":[81270000,81280000,81290000,81300000,81310000],"ticks":true,"tickSize":4,"tickColor":"#444","labels":false,"domain":false,"title":null}},"x2":{"field":"x2"},"y":{"field":"v","type":"quantitative","scale":{"domain":[0,37]},"axis":{"title":"Testis_Adult","titleColor":"#0000ff","titleX":-27,"titleY":24}},"y2":{"datum":0}}},
     {"data":{"name":"bBand"},"mark":{"type":"rule","color":"#0000ff","strokeWidth":2.5},"encoding":{"x":{"datum":81265950,"type":"quantitative"},"x2":{"datum":81310000},"y":{"datum":0,"type":"quantitative"}}},
     {"data":{"name":"bBand"},"mark":{"type":"rule","color":"#1c1c50","strokeWidth":2.5},"encoding":{"x":{"datum":81270000,"type":"quantitative"},"x2":{"datum":81310000},"y":{"datum":0,"type":"quantitative"}}}]}
   ]},
   {"width":10,"height":100,"data":{"values":[{}]},"mark":{"type":"point","opacity":0}},
   {"bounds":"flush","spacing":0,"title":{"text":"H3K4me3","orient":"left","anchor":"middle","frame":"bounds","fontSize":21,"offset":6,"baseline":"bottom","dx":-7},"vconcat":[
    {"width":704,"height":85,"layer":[
     {"data":{"name":"bBand"},"mark":{"type":"rect","color":"#c2ead4"},"encoding":{"x":{"field":"x","type":"quantitative","scale":{"domain":[81265950,81310000],"nice":false,"zero":false},"axis":null},"x2":{"field":"x2"}}},
     {"data":{"name":"bK4M"},"mark":{"type":"area","color":"#ff0000"},"encoding":{"x":{"field":"x","type":"quantitative","axis":null},"y":{"field":"v","type":"quantitative","scale":{"domain":[0,85]},"axis":{"title":"Muscle_Adult","titleColor":"#ff0000","titleX":-27,"titleY":74}}}},
     {"data":{"name":"bBand"},"mark":{"type":"rule","color":"#ff0000","strokeWidth":2.5},"encoding":{"x":{"datum":81265950,"type":"quantitative","axis":null},"x2":{"datum":81310000},"y":{"datum":0,"type":"quantitative"}}}]},
    {"width":704,"height":37,"layer":[
     {"data":{"name":"bBand"},"mark":{"type":"rect","color":"#c2ead4"},"encoding":{"x":{"field":"x","type":"quantitative","scale":{"domain":[81265950,81310000],"nice":false,"zero":false}},"x2":{"field":"x2"}}},
     {"data":{"name":"bK4T"},"mark":{"type":"area","color":"#0000ff"},"encoding":{"x":{"field":"x","type":"quantitative","axis":{"values":[81270000,81280000,81290000,81300000,81310000],"ticks":true,"tickSize":4,"tickColor":"#444","labels":false,"domain":false,"title":null}},"y":{"field":"v","type":"quantitative","scale":{"domain":[0,37]},"axis":{"title":"Testis_Adult","titleColor":"#0000ff","titleX":-27,"titleY":25}}}},
     {"data":{"name":"bBand"},"mark":{"type":"rule","color":"#0000ff","strokeWidth":2.5},"encoding":{"x":{"datum":81265950,"type":"quantitative"},"x2":{"datum":81310000},"y":{"datum":0,"type":"quantitative"}}},
     {"data":{"name":"bBand"},"mark":{"type":"rule","color":"#1c1c50","strokeWidth":2.5},"encoding":{"x":{"datum":81270000,"type":"quantitative"},"x2":{"datum":81310000},"y":{"datum":0,"type":"quantitative"}}}]}
   ]},
   {"width":10,"height":122,"data":{"values":[{}]},"mark":{"type":"point","opacity":0}},
   {"bounds":"flush","spacing":0,"title":{"text":"H3K27ac","orient":"left","anchor":"middle","frame":"bounds","fontSize":21,"offset":6,"baseline":"bottom","dx":-7},"vconcat":[
    {"width":704,"height":74,"layer":[
     {"data":{"name":"bBand"},"mark":{"type":"rect","color":"#c2ead4"},"encoding":{"x":{"field":"x","type":"quantitative","scale":{"domain":[81265950,81310000],"nice":false,"zero":false},"axis":null},"x2":{"field":"x2"}}},
     {"data":{"name":"bK27M"},"mark":{"type":"area","color":"#ff0000"},"encoding":{"x":{"field":"x","type":"quantitative","axis":null},"y":{"field":"v","type":"quantitative","scale":{"domain":[0,74]},"axis":{"title":"Muscle_Adult","titleColor":"#ff0000","titleX":-27,"titleY":62}}}},
     {"data":{"name":"bBand"},"mark":{"type":"rule","color":"#ff0000","strokeWidth":2.5},"encoding":{"x":{"datum":81265950,"type":"quantitative","axis":null},"x2":{"datum":81310000},"y":{"datum":0,"type":"quantitative"}}}]},
    {"width":704,"height":37,"layer":[
     {"data":{"name":"bBand"},"mark":{"type":"rect","color":"#c2ead4"},"encoding":{"x":{"field":"x","type":"quantitative","scale":{"domain":[81265950,81310000],"nice":false,"zero":false}},"x2":{"field":"x2"}}},
     {"data":{"name":"bK27T"},"mark":{"type":"area","color":"#0000ff"},"encoding":{"x":{"field":"x","type":"quantitative","axis":{"values":[81270000,81280000,81290000,81300000,81310000],"format":"d","ticks":true,"tickSize":6,"tickColor":"#333","labels":true,"labelFontSize":15,"labelPadding":12,"labelColor":"#333","domain":false,"title":"Chromosome 6","titleFontSize":20,"titlePadding":2,"titleColor":"#333"}},"y":{"field":"v","type":"quantitative","scale":{"domain":[0,37]},"axis":{"title":"Testis_Adult","titleColor":"#0000ff","titleX":-27,"titleY":25}}}},
     {"data":{"name":"bBand"},"mark":{"type":"rule","color":"#0000ff","strokeWidth":2.5},"encoding":{"x":{"datum":81265950,"type":"quantitative"},"x2":{"datum":81310000},"y":{"datum":0,"type":"quantitative"}}},
     {"data":{"name":"bBand"},"mark":{"type":"rule","color":"#333333","strokeWidth":2},"encoding":{"x":{"datum":81270000,"type":"quantitative"},"x2":{"datum":81310000},"y":{"datum":0,"type":"quantitative"}}}]}
   ]},
   {"width":10,"height":111,"data":{"values":[{}]},"mark":{"type":"point","opacity":0}},
   {"width":704,"height":113,"layer":[
    {"data":{"name":"bGeneL"},"mark":{"type":"rule","color":"#2233ff","strokeWidth":2.5},"encoding":{"x":{"field":"x","type":"quantitative","scale":{"domain":[81265950,81310000],"nice":false,"zero":false},"axis":null},"x2":{"field":"x2"},"y":{"datum":10,"type":"quantitative","scale":{"domain":[0,113]},"axis":null}}},
    {"data":{"name":"bExon"},"mark":{"type":"rect","color":"#2233ff"},"encoding":{"x":{"field":"x","type":"quantitative","axis":null},"x2":{"field":"x2"},"y":{"datum":4,"type":"quantitative","axis":null},"y2":{"datum":16}}},
    {"data":{"name":"bArrow"},"mark":{"type":"rule","color":"#2233ff","strokeWidth":4},"encoding":{"x":{"field":"x","type":"quantitative","axis":null},"x2":{"field":"x2"},"y":{"datum":22,"type":"quantitative","axis":null}}},
    {"data":{"name":"bHead"},"mark":{"type":"point","shape":"triangle-left","size":200,"filled":true,"color":"#2233ff","opacity":1},"encoding":{"x":{"field":"x","type":"quantitative","axis":null},"y":{"datum":22,"type":"quantitative","axis":null}}},
    {"data":{"name":"bLbl"},"mark":{"type":"text","fontStyle":"italic","fontSize":14,"color":"#333"},"encoding":{"x":{"field":"x","type":"quantitative","axis":null},"y":{"datum":21,"type":"quantitative","axis":null},"text":{"field":"t"}}}]}
  ]}
 ]}
]},
{"bounds":"flush","spacing":0,"vconcat":[
 {"bounds":"flush","spacing":0,"vconcat":[
  {"width":769,"height":49,"title":{"text":"c","dx":-139,"offset":-22},"layer":[
   {"data":{"name":"cBand"},"mark":{"type":"rect","color":"#ddd6ec"},"encoding":{"x":{"field":"x","type":"quantitative","scale":{"domain":[163520000,163570000],"nice":false,"zero":false},"axis":null},"x2":{"field":"x2"}}},
   {"data":{"name":"cDmrM"},"mark":{"type":"rect","color":"#ff0000","cornerRadius":4},"encoding":{"x":{"field":"x","type":"quantitative","axis":null},"x2":{"field":"x2"},"y":{"field":"lo","type":"quantitative","scale":{"domain":[0,49]},"axis":{"title":"Muscle_Adult","titleColor":"#ff0000","titleX":-30,"titleY":34,"titleFontSize":18}},"y2":{"field":"hi"}}}]},
  {"width":769,"height":31,"title":{"text":"DMR","orient":"right","angle":0,"align":"left","baseline":"middle","anchor":"middle","fontSize":22,"offset":-36,"dy":7.5},"layer":[
   {"data":{"name":"cBand"},"mark":{"type":"rect","color":"#ddd6ec"},"encoding":{"x":{"field":"x","type":"quantitative","scale":{"domain":[163520000,163570000],"nice":false,"zero":false}},"x2":{"field":"x2"}}},
   {"data":{"name":"cDmrT"},"mark":{"type":"rect","color":"#0000ff","cornerRadius":4},"encoding":{"x":{"field":"x","type":"quantitative","axis":{"values":[163520000,163530000,163540000,163550000,163560000,163570000],"ticks":true,"tickSize":4,"tickColor":"#888","labels":false,"domain":false,"title":null}},"x2":{"field":"x2"},"y":{"field":"lo","type":"quantitative","scale":{"domain":[0,31]},"axis":{"title":"Testis_Adult","titleColor":"#0000ff","titleX":-30,"titleY":17,"titleFontSize":18}},"y2":{"field":"hi"}}},
   {"data":{"name":"cBand"},"mark":{"type":"rule","color":"#999999","strokeWidth":2},"encoding":{"x":{"datum":163520000,"type":"quantitative"},"x2":{"datum":163570000},"y":{"datum":0,"type":"quantitative"}}}]},
  {"width":769,"height":40,"layer":[
   {"data":{"name":"cBand"},"mark":{"type":"rect","color":"#ddd6ec"},"encoding":{"x":{"field":"x","type":"quantitative","scale":{"domain":[163520000,163570000],"nice":false,"zero":false},"axis":null},"x2":{"field":"x2"}}},
   {"data":{"name":"cRnaM"},"mark":{"type":"rect","color":"#ff0000"},"encoding":{"x":{"field":"x","type":"quantitative","axis":null},"x2":{"field":"x2"},"y":{"field":"v","type":"quantitative","scale":{"domain":[0,40]},"axis":{"title":"Muscle_Adult","titleColor":"#ff0000","titleX":-30,"titleY":28,"titleFontSize":18}},"y2":{"datum":0}}},
   {"data":{"name":"cBand"},"mark":{"type":"rule","color":"#ff0000","strokeWidth":3},"encoding":{"x":{"datum":163520000,"type":"quantitative","axis":null},"x2":{"datum":163570000},"y":{"datum":0,"type":"quantitative"}}}]},
  {"width":769,"height":34,"title":{"text":"RNA-seq","orient":"right","angle":0,"align":"left","baseline":"middle","anchor":"middle","fontSize":22,"offset":-70,"dy":4},"layer":[
   {"data":{"name":"cBand"},"mark":{"type":"rect","color":"#ddd6ec"},"encoding":{"x":{"field":"x","type":"quantitative","scale":{"domain":[163520000,163570000],"nice":false,"zero":false}},"x2":{"field":"x2"}}},
   {"data":{"name":"cRnaT"},"mark":{"type":"rect","color":"#0000e6"},"encoding":{"x":{"field":"x","type":"quantitative","axis":{"values":[163520000,163530000,163540000,163550000,163560000,163570000],"ticks":true,"tickSize":4,"tickColor":"#444","labels":false,"domain":false,"title":null}},"x2":{"field":"x2"},"y":{"field":"v","type":"quantitative","scale":{"domain":[0,34]},"axis":{"title":"Testis_Adult","titleColor":"#0000ff","titleX":-30,"titleY":21,"titleFontSize":18}},"y2":{"datum":0}}},
   {"data":{"name":"cBand"},"mark":{"type":"rule","color":"#1c1c50","strokeWidth":2.5},"encoding":{"x":{"datum":163520000,"type":"quantitative"},"x2":{"datum":163570000},"y":{"datum":0,"type":"quantitative"}}}]},
  {"width":769,"height":40,"layer":[
   {"data":{"name":"cBand"},"mark":{"type":"rect","color":"#ddd6ec"},"encoding":{"x":{"field":"x","type":"quantitative","scale":{"domain":[163520000,163570000],"nice":false,"zero":false},"axis":null},"x2":{"field":"x2"}}},
   {"data":{"name":"cK4M"},"mark":{"type":"area","color":"#ff0000"},"encoding":{"x":{"field":"x","type":"quantitative","axis":null},"y":{"field":"v","type":"quantitative","scale":{"domain":[0,40]},"axis":{"title":"Muscle_Adult","titleColor":"#ff0000","titleX":-30,"titleY":28,"titleFontSize":18}}}},
   {"data":{"name":"cBand"},"mark":{"type":"rule","color":"#ff0000","strokeWidth":2},"encoding":{"x":{"datum":163520000,"type":"quantitative","axis":null},"x2":{"datum":163570000},"y":{"datum":0,"type":"quantitative"}}}]},
  {"width":769,"height":35,"title":{"text":"H3K4me3","orient":"right","angle":0,"align":"left","baseline":"middle","anchor":"middle","fontSize":22,"offset":-77,"dy":5.5},"layer":[
   {"data":{"name":"cBand"},"mark":{"type":"rect","color":"#ddd6ec"},"encoding":{"x":{"field":"x","type":"quantitative","scale":{"domain":[163520000,163570000],"nice":false,"zero":false}},"x2":{"field":"x2"}}},
   {"data":{"name":"cK4T"},"mark":{"type":"area","color":"#0000ff"},"encoding":{"x":{"field":"x","type":"quantitative","axis":{"values":[163520000,163530000,163540000,163550000,163560000,163570000],"ticks":true,"tickSize":4,"tickColor":"#444","labels":false,"domain":false,"title":null}},"y":{"field":"v","type":"quantitative","scale":{"domain":[0,35]},"axis":{"title":"Testis_Adult","titleColor":"#0000ff","titleX":-30,"titleY":21,"titleFontSize":18}}}},
   {"data":{"name":"cBand"},"mark":{"type":"rule","color":"#1c1c50","strokeWidth":2.5},"encoding":{"x":{"datum":163520000,"type":"quantitative"},"x2":{"datum":163570000},"y":{"datum":0,"type":"quantitative"}}}]},
  {"width":769,"height":50,"layer":[
   {"data":{"name":"cBand"},"mark":{"type":"rect","color":"#ddd6ec"},"encoding":{"x":{"field":"x","type":"quantitative","scale":{"domain":[163520000,163570000],"nice":false,"zero":false},"axis":null},"x2":{"field":"x2"}}},
   {"data":{"name":"cK27M"},"mark":{"type":"area","color":"#ff0000"},"encoding":{"x":{"field":"x","type":"quantitative","axis":null},"y":{"field":"v","type":"quantitative","scale":{"domain":[0,50]},"axis":{"title":"Muscle_Adult","titleColor":"#ff0000","titleX":-30,"titleY":39,"titleFontSize":18}}}},
   {"data":{"name":"cBand"},"mark":{"type":"rule","color":"#ff0000","strokeWidth":2},"encoding":{"x":{"datum":163520000,"type":"quantitative","axis":null},"x2":{"datum":163570000},"y":{"datum":0,"type":"quantitative"}}}]},
  {"width":769,"height":34,"title":{"text":"H3K27ac","orient":"right","angle":0,"align":"left","baseline":"middle","anchor":"middle","fontSize":22,"offset":-71,"dy":-6},"layer":[
   {"data":{"name":"cBand"},"mark":{"type":"rect","color":"#ddd6ec"},"encoding":{"x":{"field":"x","type":"quantitative","scale":{"domain":[163520000,163570000],"nice":false,"zero":false}},"x2":{"field":"x2"}}},
   {"data":{"name":"cK27T"},"mark":{"type":"area","color":"#0000ff"},"encoding":{"x":{"field":"x","type":"quantitative","axis":{"values":[163520000,163530000,163540000,163550000,163560000,163570000],"format":"d","ticks":true,"tickSize":8,"tickColor":"#333","labels":true,"labelFontSize":16,"labelPadding":6,"labelColor":"#333","domain":false,"title":"Chromosome 1","titleFontSize":20,"titlePadding":1,"titleColor":"#333"}},"y":{"field":"v","type":"quantitative","scale":{"domain":[0,34]},"axis":{"title":"Testis_Adult","titleColor":"#0000ff","titleX":-30,"titleY":21,"titleFontSize":18}}}},
   {"data":{"name":"cBand"},"mark":{"type":"rule","color":"#333333","strokeWidth":2},"encoding":{"x":{"datum":163520000,"type":"quantitative"},"x2":{"datum":163570000},"y":{"datum":0,"type":"quantitative"}}}]},
  {"width":769,"height":104,"layer":[
   {"data":{"name":"cGeneL"},"mark":{"type":"rule","color":"#a83838","strokeWidth":2.5},"encoding":{"x":{"field":"x","type":"quantitative","scale":{"domain":[163520000,163570000],"nice":false,"zero":false},"axis":null},"x2":{"field":"x2"},"y":{"datum":12,"type":"quantitative","scale":{"domain":[0,104]},"axis":null}}},
   {"data":{"name":"cExon"},"mark":{"type":"rect","color":"#a83838"},"encoding":{"x":{"field":"x","type":"quantitative","axis":null},"x2":{"field":"x2"},"y":{"datum":6,"type":"quantitative","axis":null},"y2":{"datum":18}}},
   {"data":{"name":"cStart"},"mark":{"type":"point","shape":"triangle-left","size":50,"filled":true,"color":"#a83838","opacity":1},"encoding":{"x":{"field":"x","type":"quantitative","axis":null},"y":{"datum":12,"type":"quantitative","axis":null}}},
   {"data":{"name":"cArrow"},"mark":{"type":"rule","color":"#8b1a3a","strokeWidth":4.5},"encoding":{"x":{"field":"x","type":"quantitative","axis":null},"x2":{"field":"x2"},"y":{"datum":42,"type":"quantitative","axis":null}}},
   {"data":{"name":"cHead"},"mark":{"type":"point","shape":"triangle-right","size":260,"filled":true,"color":"#8b1a3a","opacity":1},"encoding":{"x":{"field":"x","type":"quantitative","axis":null},"y":{"datum":42,"type":"quantitative","axis":null}}},
   {"data":{"name":"cLbl"},"mark":{"type":"text","fontStyle":"italic","fontSize":14,"color":"#333"},"encoding":{"x":{"field":"x","type":"quantitative","axis":null},"y":{"datum":24,"type":"quantitative","axis":null},"text":{"field":"t"}}}]}
 ]},
 {"width":10,"height":440,"data":{"values":[{}]},"mark":{"type":"point","opacity":0}},
 {"bounds":"flush","spacing":0,"vconcat":[
  {"width":769,"height":49,"title":{"text":"d","dx":-133,"offset":-18},"layer":[
   {"data":{"name":"dBand"},"mark":{"type":"rect","color":"#ddd6ec"},"encoding":{"x":{"field":"x","type":"quantitative","scale":{"domain":[98447950,98470000],"nice":false,"zero":false},"axis":null},"x2":{"field":"x2"}}},
   {"data":{"name":"dDmrM"},"mark":{"type":"rect","color":"#ff0000","cornerRadius":3},"encoding":{"x":{"field":"x","type":"quantitative","axis":null},"x2":{"field":"x2"},"y":{"field":"lo","type":"quantitative","scale":{"domain":[0,49]},"axis":{"title":"Muscle_Adult","titleColor":"#ff0000","titleX":-30,"titleY":34,"titleFontSize":18}},"y2":{"field":"hi"}}}]},
  {"width":769,"height":32,"title":{"text":"DMR","orient":"right","angle":0,"align":"left","baseline":"middle","anchor":"middle","fontSize":22,"offset":-36,"dy":10},"layer":[
   {"data":{"name":"dBand"},"mark":{"type":"rect","color":"#ddd6ec"},"encoding":{"x":{"field":"x","type":"quantitative","scale":{"domain":[98447950,98470000],"nice":false,"zero":false}},"x2":{"field":"x2"}}},
   {"data":{"name":"dDmrT"},"mark":{"type":"rect","color":"#0000ff","cornerRadius":3},"encoding":{"x":{"field":"x","type":"quantitative","axis":{"values":[98450000,98455000,98460000,98465000,98470000],"ticks":true,"tickSize":4,"tickColor":"#888","labels":false,"domain":false,"title":null}},"x2":{"field":"x2"},"y":{"field":"lo","type":"quantitative","scale":{"domain":[0,32]},"axis":{"title":"Testis_Adult","titleColor":"#0000ff","titleX":-30,"titleY":19,"titleFontSize":18}},"y2":{"field":"hi"}}},
   {"data":{"name":"dBand"},"mark":{"type":"rule","color":"#999999","strokeWidth":2},"encoding":{"x":{"datum":98447950,"type":"quantitative"},"x2":{"datum":98470000},"y":{"datum":0,"type":"quantitative"}}}]},
  {"width":769,"height":38,"layer":[
   {"data":{"name":"dBand"},"mark":{"type":"rect","color":"#ddd6ec"},"encoding":{"x":{"field":"x","type":"quantitative","scale":{"domain":[98447950,98470000],"nice":false,"zero":false},"axis":null},"x2":{"field":"x2"}}},
   {"data":{"name":"dRnaM"},"mark":{"type":"rule","color":"#ff0000","strokeWidth":3},"encoding":{"x":{"field":"x","type":"quantitative","axis":null},"x2":{"field":"x2"},"y":{"datum":0,"type":"quantitative","scale":{"domain":[0,38]},"axis":{"title":"Muscle_Adult","titleColor":"#ff0000","titleX":-30,"titleY":27,"titleFontSize":18}}}}]},
  {"width":769,"height":35,"title":{"text":"RNA-seq","orient":"right","angle":0,"align":"left","baseline":"middle","anchor":"middle","fontSize":22,"offset":-70,"dy":13.5},"layer":[
   {"data":{"name":"dBand"},"mark":{"type":"rect","color":"#ddd6ec"},"encoding":{"x":{"field":"x","type":"quantitative","scale":{"domain":[98447950,98470000],"nice":false,"zero":false}},"x2":{"field":"x2"}}},
   {"data":{"name":"dRnaT"},"mark":{"type":"rect","color":"#0000ff"},"encoding":{"x":{"field":"x","type":"quantitative","axis":{"values":[98450000,98455000,98460000,98465000,98470000],"ticks":true,"tickSize":4,"tickColor":"#444","labels":false,"domain":false,"title":null}},"x2":{"field":"x2"},"y":{"field":"v","type":"quantitative","scale":{"domain":[0,35]},"axis":{"title":"Testis_Adult","titleColor":"#0000ff","titleX":-30,"titleY":22,"titleFontSize":18}},"y2":{"datum":0}}},
   {"data":{"name":"dBand"},"mark":{"type":"rule","color":"#0000ff","strokeWidth":2.5},"encoding":{"x":{"datum":98447950,"type":"quantitative"},"x2":{"datum":98470000},"y":{"datum":0,"type":"quantitative"}}},
   {"data":{"name":"dBand"},"mark":{"type":"rule","color":"#1c1c50","strokeWidth":2.5},"encoding":{"x":{"datum":98450000,"type":"quantitative"},"x2":{"datum":98470000},"y":{"datum":0,"type":"quantitative"}}}]},
  {"width":769,"height":48,"layer":[
   {"data":{"name":"dBand"},"mark":{"type":"rect","color":"#ddd6ec"},"encoding":{"x":{"field":"x","type":"quantitative","scale":{"domain":[98447950,98470000],"nice":false,"zero":false},"axis":null},"x2":{"field":"x2"}}},
   {"data":{"name":"dK4M"},"mark":{"type":"area","color":"#ff0000"},"encoding":{"x":{"field":"x","type":"quantitative","axis":null},"y":{"field":"v","type":"quantitative","scale":{"domain":[0,48]},"axis":{"title":"Muscle_Adult","titleColor":"#ff0000","titleX":-30,"titleY":36,"titleFontSize":18}}}},
   {"data":{"name":"dBand"},"mark":{"type":"rule","color":"#ff0000","strokeWidth":2},"encoding":{"x":{"datum":98447950,"type":"quantitative","axis":null},"x2":{"datum":98470000},"y":{"datum":0,"type":"quantitative"}}}]},
  {"width":769,"height":33,"title":{"text":"H3K4me3","orient":"right","angle":0,"align":"left","baseline":"middle","anchor":"middle","fontSize":22,"offset":-77,"dy":3.5},"layer":[
   {"data":{"name":"dBand"},"mark":{"type":"rect","color":"#ddd6ec"},"encoding":{"x":{"field":"x","type":"quantitative","scale":{"domain":[98447950,98470000],"nice":false,"zero":false}},"x2":{"field":"x2"}}},
   {"data":{"name":"dK4T"},"mark":{"type":"area","color":"#0000ff"},"encoding":{"x":{"field":"x","type":"quantitative","axis":{"values":[98450000,98455000,98460000,98465000,98470000],"ticks":true,"tickSize":4,"tickColor":"#444","labels":false,"domain":false,"title":null}},"y":{"field":"v","type":"quantitative","scale":{"domain":[0,33]},"axis":{"title":"Testis_Adult","titleColor":"#0000ff","titleX":-30,"titleY":22,"titleFontSize":18}}}},
   {"data":{"name":"dBand"},"mark":{"type":"rule","color":"#0000ff","strokeWidth":2.5},"encoding":{"x":{"datum":98447950,"type":"quantitative"},"x2":{"datum":98470000},"y":{"datum":0,"type":"quantitative"}}},
   {"data":{"name":"dBand"},"mark":{"type":"rule","color":"#1c1c50","strokeWidth":2.5},"encoding":{"x":{"datum":98450000,"type":"quantitative"},"x2":{"datum":98470000},"y":{"datum":0,"type":"quantitative"}}}]},
  {"width":769,"height":51,"layer":[
   {"data":{"name":"dBand"},"mark":{"type":"rect","color":"#ddd6ec"},"encoding":{"x":{"field":"x","type":"quantitative","scale":{"domain":[98447950,98470000],"nice":false,"zero":false},"axis":null},"x2":{"field":"x2"}}},
   {"data":{"name":"dK27M"},"mark":{"type":"area","color":"#ff0000"},"encoding":{"x":{"field":"x","type":"quantitative","axis":null},"y":{"field":"v","type":"quantitative","scale":{"domain":[0,51]},"axis":{"title":"Muscle_Adult","titleColor":"#ff0000","titleX":-30,"titleY":39,"titleFontSize":18}}}},
   {"data":{"name":"dBand"},"mark":{"type":"rule","color":"#ff0000","strokeWidth":2},"encoding":{"x":{"datum":98447950,"type":"quantitative","axis":null},"x2":{"datum":98470000},"y":{"datum":0,"type":"quantitative"}}}]},
  {"width":769,"height":34,"title":{"text":"H3K27ac","orient":"right","angle":0,"align":"left","baseline":"middle","anchor":"middle","fontSize":22,"offset":-71,"dy":-8},"layer":[
   {"data":{"name":"dBand"},"mark":{"type":"rect","color":"#ddd6ec"},"encoding":{"x":{"field":"x","type":"quantitative","scale":{"domain":[98447950,98470000],"nice":false,"zero":false}},"x2":{"field":"x2"}}},
   {"data":{"name":"dK27T"},"mark":{"type":"area","color":"#0000ff"},"encoding":{"x":{"field":"x","type":"quantitative","axis":{"values":[98450000,98455000,98460000,98465000,98470000],"format":"d","ticks":true,"tickSize":8,"tickColor":"#333","labels":true,"labelFontSize":16,"labelPadding":7,"labelColor":"#333","domain":false,"title":"Chromosome 4 (Mb)","titleFontSize":20,"titlePadding":1,"titleColor":"#333"}},"y":{"field":"v","type":"quantitative","scale":{"domain":[0,34]},"axis":{"title":"Testis_Adult","titleColor":"#0000ff","titleX":-30,"titleY":22,"titleFontSize":18}}}},
   {"data":{"name":"dBand"},"mark":{"type":"rule","color":"#0000ff","strokeWidth":2.5},"encoding":{"x":{"datum":98447950,"type":"quantitative"},"x2":{"datum":98470000},"y":{"datum":0,"type":"quantitative"}}},
   {"data":{"name":"dBand"},"mark":{"type":"rule","color":"#333333","strokeWidth":2},"encoding":{"x":{"datum":98450000,"type":"quantitative"},"x2":{"datum":98470000},"y":{"datum":0,"type":"quantitative"}}}]},
  {"width":769,"height":107,"layer":[
   {"data":{"name":"dGeneL"},"mark":{"type":"rule","color":"#a83838","strokeWidth":2.5},"encoding":{"x":{"field":"x","type":"quantitative","scale":{"domain":[98447950,98470000],"nice":false,"zero":false},"axis":null},"x2":{"field":"x2"},"y":{"datum":14,"type":"quantitative","scale":{"domain":[0,107]},"axis":null}}},
   {"data":{"name":"dExon"},"mark":{"type":"rect","color":"#a83838"},"encoding":{"x":{"field":"x","type":"quantitative","axis":null},"x2":{"field":"x2"},"y":{"datum":8,"type":"quantitative","axis":null},"y2":{"datum":20}}},
   {"data":{"name":"dArrow"},"mark":{"type":"rule","color":"#8b1a3a","strokeWidth":4.5},"encoding":{"x":{"field":"x","type":"quantitative","axis":null},"x2":{"field":"x2"},"y":{"datum":43,"type":"quantitative","axis":null}}},
   {"data":{"name":"dHead"},"mark":{"type":"point","shape":"triangle-right","size":260,"filled":true,"color":"#8b1a3a","opacity":1},"encoding":{"x":{"field":"x","type":"quantitative","axis":null},"y":{"datum":43,"type":"quantitative","axis":null}}},
   {"data":{"name":"dLbl"},"mark":{"type":"text","fontStyle":"italic","fontSize":14,"color":"#333"},"encoding":{"x":{"field":"x","type":"quantitative","axis":null},"y":{"datum":25,"type":"quantitative","axis":null},"text":{"field":"t"}}}]}
 ]},
 {"width":10,"height":460,"data":{"values":[{}]},"mark":{"type":"point","opacity":0}},
 {"bounds":"flush","spacing":124,"hconcat":[
  {"width":312,"height":444,"title":{"text":"e","dx":-100,"offset":-82},"data":{"name":"pE"},
   "encoding":{"theta":{"field":"n","type":"quantitative","stack":true},"order":{"field":"o","type":"ordinal"},"color":{"field":"cat","type":"nominal","legend":null,"scale":{"domain":["Distal","Proximal","Intragenic"],"range":["#619CFF","#00BA38","#F8766D"]}}},
   "layer":[{"mark":{"type":"arc","outerRadius":222}},{"mark":{"type":"text","radius":117,"fontSize":21,"font":"Liberation Sans"},"encoding":{"text":{"field":"label"},"color":{"value":"#333333"}}}]},
  {"width":440,"height":444,"title":{"text":"f","dx":-30,"offset":-77},"data":{"name":"pF"},
   "encoding":{"theta":{"field":"n","type":"quantitative","stack":true},"order":{"field":"o","type":"ordinal"},"color":{"field":"cat","type":"nominal","legend":null,"scale":{"domain":["Distal","Proximal","Intragenic"],"range":["#619CFF","#00BA38","#F8766D"]}}},
   "layer":[{"mark":{"type":"arc","outerRadius":222}},{"mark":{"type":"text","radius":132,"fontSize":21,"lineHeight":30,"font":"Liberation Sans"},"encoding":{"text":{"field":"label"},"color":{"value":"#333333"}}}]}
 ]}
]}
]
}
